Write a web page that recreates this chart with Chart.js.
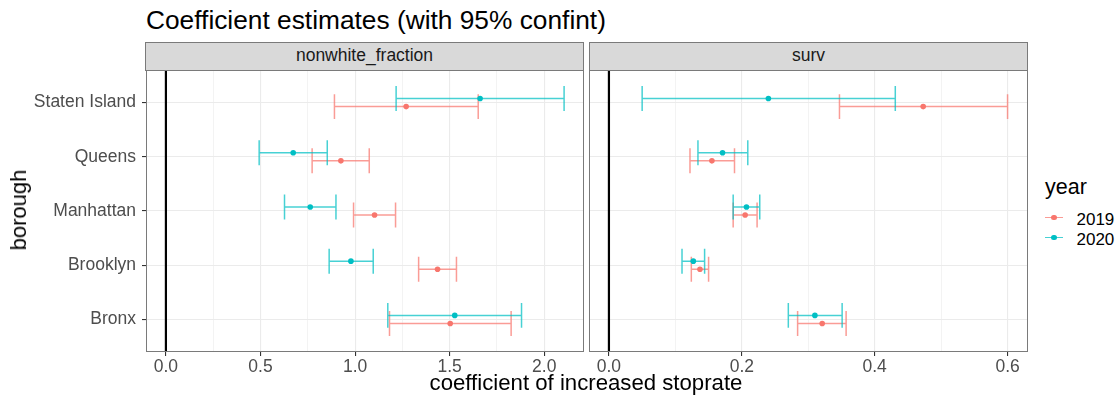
<!DOCTYPE html>
<html>
<head>
<meta charset="utf-8">
<script src="https://cdn.jsdelivr.net/npm/chart.js@4"></script>
<style>
  html, body { margin: 0; padding: 0; background: #ffffff; }
  body { width: 1119px; height: 398px; position: relative; overflow: hidden;
         font-family: "Liberation Sans", Arial, sans-serif; }
  .abs { position: absolute; white-space: nowrap; line-height: 1; }
  canvas { position: absolute; }
  .strip { position: absolute; background: #D9D9D9; border: 1px solid #7a7a7a; box-sizing: border-box; }
  .key-line { position: absolute; height: 1.6px; width: 18px; }
  .key-dot { position: absolute; width: 5.6px; height: 5.6px; border-radius: 50%; }
</style>
</head>
<body>
<div class="abs" id="title" style="left:146px; top:6.6px; font-size:26.3px; color:#000;">Coefficient estimates (with 95% confint)</div>
<div class="strip" style="left:145px; top:42px; width:439px; height:29px;"></div>
<div class="strip" style="left:589px; top:42px; width:439px; height:29px;"></div>
<div class="abs" style="left:364.5px; top:47.2px; font-size:17.5px; color:#1A1A1A; transform:translateX(-50%);">nonwhite_fraction</div>
<div class="abs" style="left:808.5px; top:47.2px; font-size:17.5px; color:#1A1A1A; transform:translateX(-50%);">surv</div>
<canvas id="c1" width="590" height="328" style="left:0px; top:70px;"></canvas>
<canvas id="c2" width="440" height="328" style="left:589px; top:70px;"></canvas>
<div class="abs" id="xtitle" style="left:586px; top:372.4px; font-size:22.2px; color:#000; transform:translateX(-50%);">coefficient of increased stoprate</div>
<div class="abs" id="ytitle" style="left:19px; top:209.5px; font-size:22px; color:#000; transform:translate(-50%,-50%) rotate(-90deg);">borough</div>
<div id="legend"></div>

<script>
// Boroughs listed bottom to top on the y axis
const boroughs = ['Bronx', 'Brooklyn', 'Manhattan', 'Queens', 'Staten Island'];
const years = ['2019', '2020'];
const yearColors = ['#F8766D', '#00BFC4'];

// nonwhite_fraction coefficient: estimate, lower and upper 95% bounds
const nonwhiteEst2019 = [1.503, 1.436, 1.103, 0.925, 1.270];
const nonwhiteLo2019  = [1.182, 1.336, 0.992, 0.773, 0.891];
const nonwhiteHi2019  = [1.825, 1.536, 1.214, 1.075, 1.651];
const nonwhiteEst2020 = [1.527, 0.978, 0.763, 0.673, 1.661];
const nonwhiteLo2020  = [1.173, 0.863, 0.627, 0.493, 1.217];
const nonwhiteHi2020  = [1.880, 1.096, 0.899, 0.853, 2.105];

// surv coefficient: estimate, lower and upper 95% bounds
const survEst2019 = [0.321, 0.137, 0.205, 0.155, 0.473];
const survLo2019  = [0.284, 0.124, 0.187, 0.122, 0.347];
const survHi2019  = [0.357, 0.150, 0.223, 0.189, 0.600];
const survEst2020 = [0.310, 0.127, 0.207, 0.171, 0.240];
const survLo2020  = [0.270, 0.110, 0.187, 0.134, 0.050];
const survHi2020  = [0.351, 0.144, 0.227, 0.209, 0.431];

// x tick positions per facet (major labelled, minor grid only)
const nonwhiteTicks = [0, 0.25, 0.5, 0.75, 1.0, 1.25, 1.5, 1.75, 2.0];
const nonwhiteMajor = [0, 0.5, 1.0, 1.5, 2.0];
const survTicks = [0, 0.1, 0.2, 0.3, 0.4, 0.5, 0.6];
const survMajor = [0, 0.2, 0.4, 0.6];

const DODGE = 0.075;     // vertical offset between the two years within a borough
const CAP = 0.23;        // half height of error bar caps (in category units)
const BAR_ALPHA = 0.72;
const FONT = '"Liberation Sans", Arial, sans-serif';

function withAlpha(hex, a) {
  const n = parseInt(hex.slice(1), 16);
  return `rgba(${(n >> 16) & 255},${(n >> 8) & 255},${n & 255},${a})`;
}

function isMajor(v, majors) { return majors.some(m => Math.abs(m - v) < 1e-9); }

// Draws error bars, the zero reference line and the panel frame
const facetPlugin = {
  id: 'facetDecor',
  beforeDatasetsDraw(chart) {
    const { ctx, chartArea: a, scales: { x, y } } = chart;
    const bars = chart.options.plugins.facetDecor.bars;
    ctx.save();
    // zero reference line
    ctx.strokeStyle = '#000000';
    ctx.lineWidth = 2.2;
    const x0 = x.getPixelForValue(0);
    ctx.beginPath(); ctx.moveTo(x0, a.top); ctx.lineTo(x0, a.bottom); ctx.stroke();
    // error bars
    bars.forEach((b, k) => {
      ctx.strokeStyle = withAlpha(yearColors[k], BAR_ALPHA);
      ctx.lineWidth = 1.5;
      b.lo.forEach((lo, i) => {
        const hi = b.hi[i];
        const yc = i + (k === 0 ? -DODGE : DODGE);
        const py = y.getPixelForValue(yc);
        const pt = y.getPixelForValue(yc + CAP);
        const pb = y.getPixelForValue(yc - CAP);
        const pl = x.getPixelForValue(lo), pr = x.getPixelForValue(hi);
        ctx.beginPath();
        ctx.moveTo(pl, py); ctx.lineTo(pr, py);
        ctx.moveTo(pl, pt); ctx.lineTo(pl, pb);
        ctx.moveTo(pr, pt); ctx.lineTo(pr, pb);
        ctx.stroke();
      });
    });
    ctx.restore();
  },
  afterDraw(chart) {
    const { ctx, chartArea: a } = chart;
    ctx.save();
    ctx.strokeStyle = '#7a7a7a';
    ctx.lineWidth = 1;
    ctx.strokeRect(Math.round(a.left) + 0.5, Math.round(a.top) + 0.5,
                   Math.round(a.right - a.left) - 1, Math.round(a.bottom - a.top) - 1);
    ctx.restore();
  }
};

function makeFacet(canvasId, est, lo, hi, ticks, majors, showY, padRight) {
  const allVals = [0].concat(...lo, ...hi);
  const dMin = Math.min(...allVals), dMax = Math.max(...allVals);
  const span = dMax - dMin;
  const datasets = years.map((yr, k) => ({
    label: yr,
    data: est[k].map((v, i) => ({ x: v, y: i + (k === 0 ? -DODGE : DODGE) })),
    backgroundColor: yearColors[k],
    borderColor: yearColors[k],
    pointRadius: 2.8,
    pointBorderWidth: 0,
    showLine: false
  }));
  return new Chart(document.getElementById(canvasId), {
    type: 'scatter',
    data: { datasets },
    plugins: [facetPlugin],
    options: {
      responsive: false,
      animation: false,
      devicePixelRatio: 1,
      layout: { autoPadding: false, padding: { left: 0, right: padRight, top: 0, bottom: 0 } },
      plugins: {
        legend: { display: false },
        tooltip: { enabled: false },
        facetDecor: { bars: years.map((yr, k) => ({ lo: lo[k], hi: hi[k] })) }
      },
      scales: {
        x: {
          type: 'linear',
          min: dMin - 0.05 * span,
          max: dMax + 0.05 * span,
          afterBuildTicks: s => { s.ticks = ticks.map(v => ({ value: v })); },
          afterFit: s => { s.height = 46; s.paddingLeft = 0; s.paddingRight = 0; },
          border: { display: false },
          grid: {
            color: c => isMajor(c.tick.value, majors) ? '#EBEBEB' : '#F2F2F2',
            lineWidth: c => isMajor(c.tick.value, majors) ? 1.1 : 0.9,
            tickColor: c => isMajor(c.tick.value, majors) ? '#333333' : 'rgba(0,0,0,0)',
            tickLength: 4,
            drawTicks: true
          },
          ticks: {
            autoSkip: false,
            maxRotation: 0,
            padding: 1,
            color: '#4D4D4D',
            font: { family: FONT, size: 17.5 },
            callback: v => isMajor(v, majors) ? v.toFixed(1) : ''
          }
        },
        y: {
          type: 'linear',
          min: -0.6,
          max: boroughs.length - 1 + 0.6,
          afterBuildTicks: s => { s.ticks = boroughs.map((b, i) => ({ value: i })); },
          afterFit: s => { s.width = showY ? 146 : 0; s.paddingTop = 0; s.paddingBottom = 0; },
          border: { display: false },
          grid: {
            color: '#EBEBEB',
            lineWidth: 1.1,
            tickColor: '#333333',
            tickLength: 4,
            drawTicks: showY
          },
          ticks: {
            display: showY,
            autoSkip: false,
            padding: 6,
            color: '#4D4D4D',
            font: { family: FONT, size: 17.5 },
            callback: v => boroughs[v]
          }
        }
      }
    }
  });
}

makeFacet('c1',
  [nonwhiteEst2019, nonwhiteEst2020],
  [nonwhiteLo2019, nonwhiteLo2020],
  [nonwhiteHi2019, nonwhiteHi2020],
  nonwhiteTicks, nonwhiteMajor, true, 6);

makeFacet('c2',
  [survEst2019, survEst2020],
  [survLo2019, survLo2020],
  [survHi2019, survHi2020],
  survTicks, survMajor, false, 1.5);

// Legend for the year colour scale
const legend = document.getElementById('legend');
const head = document.createElement('div');
head.className = 'abs';
head.style.cssText = 'left:1045px; top:176.8px; font-size:21.5px; color:#000;';
head.textContent = 'year';
legend.appendChild(head);
years.forEach((yr, k) => {
  const cy = 217.7 + k * 20;
  const line = document.createElement('div');
  line.className = 'key-line';
  line.style.cssText += `left:1045px; top:${cy - 0.8}px; background:${withAlpha(yearColors[k], BAR_ALPHA)};`;
  const dot = document.createElement('div');
  dot.className = 'key-dot';
  dot.style.cssText += `left:${1054 - 2.8}px; top:${cy - 2.8}px; background:${yearColors[k]};`;
  const txt = document.createElement('div');
  txt.className = 'abs';
  txt.style.cssText = `left:1076.5px; top:${cy + 7.3 - 14.4}px; font-size:17px; color:#000;`;
  txt.textContent = yr;
  legend.appendChild(line); legend.appendChild(dot); legend.appendChild(txt);
});
</script>
</body>
</html>
